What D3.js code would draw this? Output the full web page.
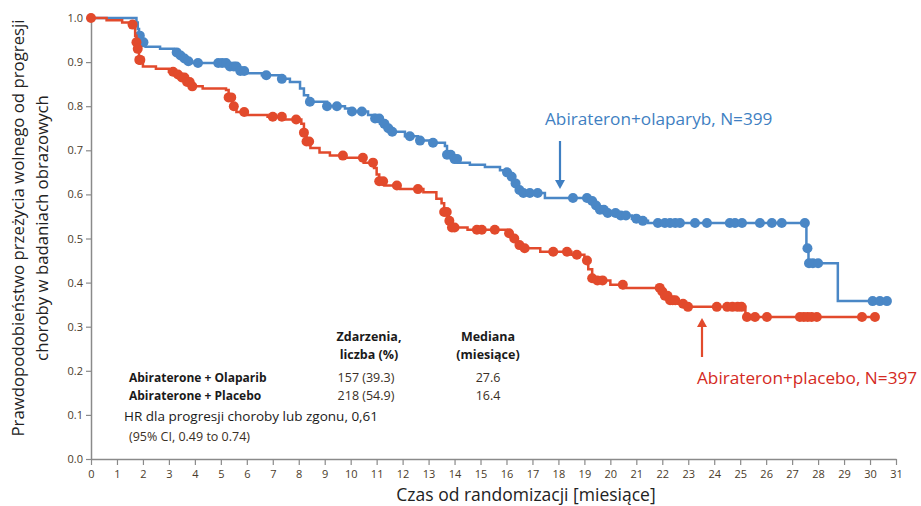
<!DOCTYPE html>
<html>
<head>
<meta charset="utf-8">
<script src="https://cdn.jsdelivr.net/npm/d3@7"></script>
<style>
  body { margin: 0; background: #fff; }
  svg { font-family: "Open Sans", "Noto Sans", sans-serif; }
</style>
</head>
<body>
<svg id="drawing_region"></svg>
<script>
// step points [month, survival] and censor times (months)
const olaparibSteps = [
    [0, 1.0], [1.75, 0.99], [1.8, 0.975], [1.85, 0.96], [1.95, 0.945], [2.1, 0.935],
    [2.66, 0.93], [3.2, 0.922], [3.35, 0.915], [3.5, 0.908], [3.7, 0.902], [3.9, 0.898],
    [5.35, 0.89], [5.74, 0.88], [5.93, 0.875], [6.58, 0.87], [7.35, 0.862],
    [7.66, 0.855], [8.05, 0.84], [8.2, 0.825], [8.36, 0.81], [9.09, 0.8],
    [9.78, 0.795], [10.05, 0.788], [10.67, 0.78], [10.94, 0.772], [11.13, 0.76],
    [11.32, 0.75], [11.51, 0.742], [12.09, 0.732], [12.59, 0.722], [13.17, 0.717],
    [13.63, 0.71], [13.71, 0.69], [13.9, 0.68], [14.13, 0.672], [14.59, 0.667],
    [15.17, 0.662], [15.75, 0.655], [16.02, 0.65], [16.17, 0.64], [16.29, 0.625],
    [16.4, 0.61], [16.56, 0.603], [17.48, 0.592], [19.18, 0.585], [19.33, 0.575],
    [19.52, 0.565], [19.87, 0.558], [20.37, 0.552], [20.83, 0.545], [21.14, 0.54],
    [21.45, 0.535], [27.55, 0.478], [27.63, 0.444], [28.76, 0.358], [30.65, 0.358]
];
const olaparibCensor = [
    1.88, 1.95, 2.02, 3.3, 3.45, 3.6, 3.75, 4.12, 4.9, 5.05, 5.2, 5.35, 5.5, 5.6,
    5.75, 5.9, 6.75, 7.35, 8.43, 9.09, 9.47, 10.05, 10.43, 10.94, 11.1, 11.3, 11.45,
    11.6, 12.28, 12.67, 13.17, 13.71, 13.85, 14.0, 14.1, 16.02, 16.2, 16.35, 16.5,
    16.65, 16.9, 17.2, 18.56, 19.1, 19.3, 19.45, 19.6, 19.75, 19.9, 20.2, 20.4, 20.6,
    21.0, 21.25, 21.83, 22.1, 22.3, 22.5, 22.68, 23.26, 23.72, 24.6, 24.8, 25.07,
    25.76, 26.22, 26.6, 27.49, 27.59, 27.65, 27.8, 28.0, 30.1, 30.38, 30.65
];

const placeboSteps = [
    [0, 1.0], [0.6, 0.995], [1.2, 0.99], [1.6, 0.985], [1.7, 0.96], [1.75, 0.945],
    [1.8, 0.93], [1.85, 0.905], [2.0, 0.89], [2.5, 0.885], [3.0, 0.878], [3.2, 0.872],
    [3.5, 0.865], [3.7, 0.855], [3.9, 0.845], [4.3, 0.84], [5.2, 0.837], [5.3, 0.82],
    [5.45, 0.8], [5.6, 0.787], [6.0, 0.78], [6.8, 0.776], [7.4, 0.77], [8.1, 0.76],
    [8.2, 0.74], [8.3, 0.72], [8.45, 0.705], [8.8, 0.695], [9.2, 0.688], [9.8, 0.683],
    [10.5, 0.672], [10.9, 0.66], [11.0, 0.645], [11.1, 0.63], [11.3, 0.62],
    [11.9, 0.612], [12.8, 0.605], [13.3, 0.59], [13.5, 0.58], [13.6, 0.56],
    [13.75, 0.54], [13.9, 0.525], [14.5, 0.52], [16.0, 0.512], [16.2, 0.5],
    [16.4, 0.485], [16.6, 0.478], [17.3, 0.47], [18.5, 0.463], [19.0, 0.45],
    [19.15, 0.43], [19.3, 0.41], [19.5, 0.405], [20.0, 0.395], [20.5, 0.388],
    [21.95, 0.38], [22.1, 0.37], [22.3, 0.36], [22.6, 0.352], [22.9, 0.345],
    [25.2, 0.322], [30.2, 0.322]
];
const placeboCensor = [
    0, 1.6, 1.75, 1.8, 1.86, 1.9, 3.16, 3.35, 3.5, 3.6, 3.7, 3.8, 3.9, 5.3, 5.4, 5.5,
    5.9, 7.0, 7.35, 7.9, 8.2, 8.3, 8.4, 9.7, 10.47, 10.86, 11.1, 11.25, 11.78, 12.59,
    13.6, 13.7, 13.8, 13.9, 14.0, 14.86, 15.05, 15.55, 16.1, 16.3, 16.5, 16.7, 17.8,
    18.33, 18.71, 19.1, 19.3, 19.5, 19.7, 20.48, 21.9, 22.0, 22.1, 22.2, 22.3, 22.4,
    22.5, 22.8, 22.99, 24.1, 24.5, 24.7, 24.9, 25.05, 25.26, 25.57, 26.03, 27.3,
    27.45, 27.6, 27.75, 27.95, 29.69, 30.19
];

const xTicks = d3.range(0, 32);
const yTicks = d3.range(0, 11).map(d => d / 10);

const tableHead = [["Zdarzenia,", "liczba (%)"], ["Mediana", "(miesiące)"]];
const tableGroups = ["Abiraterone + Olaparib", "Abiraterone + Placebo"];
const tableEvents = ["157 (39.3)", "218 (54.9)"];
const tableMedian = ["27.6", "16.4"];

const blue = "#4a87c6";
const red = "#e24a2c";

const config = {
    width: 921,
    height: 506,
    margin: {top: 18, right: 25, bottom: 47, left: 91}
};

const svg = d3.select('#drawing_region')
    .attr('width', config.width)
    .attr('height', config.height);

const inner_width = config.width - config.margin.left - config.margin.right;
const inner_height = config.height - config.margin.top - config.margin.bottom;

const chart = svg.append('g')
    .attr('transform', `translate(${config.margin.left}, ${config.margin.top})`);

const xscale = d3.scaleLinear().domain([0, 31]).range([0, inner_width]);
const yscale = d3.scaleLinear().domain([0, 1]).range([inner_height, 0]);

// axes
const xaxis = d3.axisBottom(xscale).tickValues(xTicks).tickSize(6).tickSizeOuter(0)
    .tickFormat(d3.format('d'));
const yaxis = d3.axisLeft(yscale).tickValues(yTicks).tickSize(5).tickSizeOuter(0)
    .tickFormat(d3.format('.1f'));

const xg = chart.append('g')
    .attr('transform', `translate(0, ${inner_height})`)
    .call(xaxis);
const yg = chart.append('g').call(yaxis);

[xg, yg].forEach(g => {
    g.select('.domain').attr('stroke', '#8a8a8a').attr('stroke-width', 1.5);
    g.selectAll('.tick line').attr('stroke', '#8a8a8a').attr('stroke-width', 1.2);
    g.selectAll('.tick text')
        .attr('fill', '#4a3b2a')
        .attr('font-size', '11px')
        .attr('font-family', '"Open Sans", sans-serif');
});
xg.selectAll('.tick text').attr('dy', '0.9em');

// curves
const line = d3.line()
    .x(d => xscale(d[0]))
    .y(d => yscale(d[1]))
    .curve(d3.curveStepAfter);

function survivalAt(steps, t) {
    let v = steps[0][1];
    steps.forEach(s => { if (s[0] <= t) v = s[1]; });
    return v;
}

function drawCurve(steps, censor, color) {
    chart.append('path')
        .datum(steps)
        .attr('fill', 'none')
        .attr('stroke', color)
        .attr('stroke-width', 2.5)
        .attr('d', line);

    chart.append('g').selectAll('circle')
        .data(censor)
        .enter()
        .append('circle')
        .attr('cx', d => xscale(d))
        .attr('cy', d => yscale(survivalAt(steps, d)))
        .attr('r', 5)
        .attr('fill', color);
}

drawCurve(olaparibSteps, olaparibCensor, blue);
drawCurve(placeboSteps, placeboCensor, red);

// curve labels with arrows
svg.append('text')
    .attr('x', 545).attr('y', 125)
    .attr('fill', '#3f7fc2')
    .attr('font-size', '17.2px')
    .text('Abirateron+olaparyb, N=399');

svg.append('line')
    .attr('x1', 560).attr('y1', 141).attr('x2', 560).attr('y2', 182)
    .attr('stroke', '#3f7fc2').attr('stroke-width', 2.2);
svg.append('path')
    .attr('d', 'M555,180 L565,180 L560,189 Z')
    .attr('fill', '#3f7fc2');

svg.append('text')
    .attr('x', 697).attr('y', 384)
    .attr('fill', '#d42a23')
    .attr('font-size', '17.2px')
    .text('Abirateron+placebo, N=397');

svg.append('line')
    .attr('x1', 702).attr('y1', 357).attr('x2', 702).attr('y2', 325)
    .attr('stroke', '#e24a2c').attr('stroke-width', 2.2);
svg.append('path')
    .attr('d', 'M697,327 L707,327 L702,318 Z')
    .attr('fill', '#e24a2c');

// table
const table = svg.append('g')
    .attr('font-size', '12.5px')
    .attr('fill', '#1a1a1a');

[369, 488].forEach((cx, i) => {
    tableHead[i].forEach((t, j) => {
        table.append('text')
            .attr('x', cx).attr('y', 341 + j * 18)
            .attr('text-anchor', 'middle')
            .attr('font-weight', 'bold')
            .text(t);
    });
});

tableGroups.forEach((g, i) => {
    const y = 382 + i * 18;
    table.append('text').attr('x', 129).attr('y', y).attr('font-weight', 'bold')
        .attr('font-size', '12px').text(g);
    table.append('text').attr('x', 366).attr('y', y).attr('text-anchor', 'middle')
        .attr('fill', '#3a2f25').text(tableEvents[i]);
    table.append('text').attr('x', 488).attr('y', y).attr('text-anchor', 'middle')
        .attr('fill', '#3a2f25').text(tableMedian[i]);
});

table.append('text').attr('x', 124).attr('y', 421)
    .attr('font-size', '13.5px')
    .text('HR dla progresji choroby lub zgonu, 0,61');
table.append('text').attr('x', 129).attr('y', 441).attr('fill', '#3a2f25')
    .text('(95% CI, 0.49 to 0.74)');

// axis titles
svg.append('text')
    .attr('x', 526).attr('y', 501)
    .attr('text-anchor', 'middle')
    .attr('font-size', '17.5px')
    .attr('fill', '#222')
    .text('Czas od randomizacji [miesiące]');

const ytitle = svg.append('text')
    .attr('transform', 'translate(0, 228) rotate(-90)')
    .attr('text-anchor', 'middle')
    .attr('font-size', '16.8px')
    .attr('fill', '#222');
ytitle.append('tspan').attr('x', 0).attr('y', 24).text('Prawdopodobieństwo przeżycia wolnego od progresji');
ytitle.append('tspan').attr('x', 0).attr('y', 48).text('choroby w badaniach obrazowych');
</script>
</body>
</html>
